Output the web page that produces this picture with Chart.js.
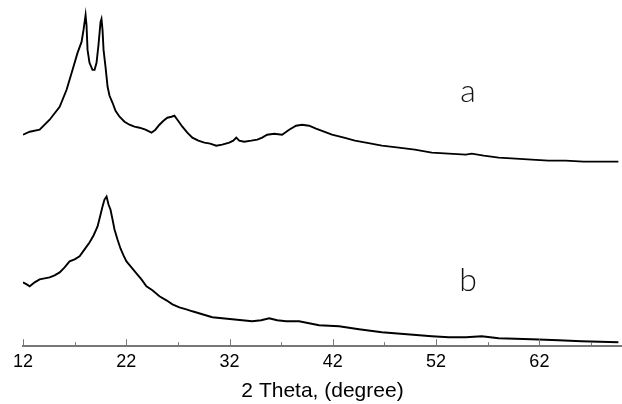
<!DOCTYPE html>
<html>
<head>
<meta charset="utf-8">
<script src="https://cdn.jsdelivr.net/npm/chart.js@4/dist/chart.umd.min.js"></script>
<style>
  html, body { margin: 0; padding: 0; background: #fff; }
  #wrap { width: 622px; height: 404px; position: relative; }
</style>
</head>
<body>
<div id="wrap"><canvas id="c" width="622" height="404"></canvas></div>
<script>
// 2θ positions and intensities (arbitrary units)
const thetaA = [12.0, 12.65, 13.61, 14.58, 15.55, 16.22, 16.80, 17.28, 17.67, 17.86, 18.06, 18.15, 18.25, 18.44, 18.73, 18.93, 19.12, 19.31, 19.51, 19.60, 19.70, 19.80, 19.99, 20.19, 20.38, 20.67, 20.96, 21.35, 21.83, 22.31, 22.79, 23.28, 23.86, 24.44, 24.82, 25.21, 25.60, 25.98, 26.37, 26.66, 26.95, 27.43, 27.91, 28.40, 28.98, 29.56, 30.13, 30.71, 31.29, 31.97, 32.36, 32.65, 32.94, 33.42, 34.10, 34.68, 35.16, 35.64, 36.32, 37.09, 37.77, 38.44, 39.02, 39.70, 40.37, 41.15, 41.92, 43.08, 44.14, 45.20, 46.75, 48.39, 49.94, 51.58, 53.23, 54.87, 55.45, 56.61, 58.06, 59.70, 61.25, 62.89, 64.53, 66.27, 67.72, 69.65];
const intensityA = [212, 215, 217, 227, 240, 257, 277, 294, 305, 317, 332, 322, 297, 284, 277, 277, 284, 302, 325, 328, 317, 297, 280, 260, 251, 244, 236, 230, 225, 222, 220, 219, 217, 214, 217, 222, 226, 229, 230, 231, 227, 220, 214, 209, 206, 204, 203, 201, 202, 204, 206, 209, 206, 205, 206, 207, 209, 212, 213, 212, 217, 221, 222, 221, 218, 215, 212, 209, 206, 204, 201, 199, 197, 194, 193, 192, 193, 191, 189, 188, 187, 186, 186, 185, 185, 185];

const thetaB = [12.0, 12.36, 12.65, 13.13, 13.61, 14.09, 14.58, 15.06, 15.55, 16.03, 16.51, 17.0, 17.48, 17.96, 18.44, 18.83, 19.22, 19.51, 19.70, 19.89, 20.09, 20.28, 20.47, 20.67, 20.86, 21.15, 21.44, 21.73, 22.02, 22.50, 22.98, 23.47, 23.95, 24.53, 25.21, 25.89, 26.47, 27.14, 27.82, 28.40, 29.36, 30.33, 31.29, 32.26, 33.23, 34.19, 35.06, 35.84, 36.61, 37.48, 38.73, 40.67, 42.60, 44.53, 46.75, 49.17, 51.58, 53.23, 54.87, 56.42, 58.06, 61.25, 63.86, 66.08, 69.65];
const intensityB = [64, 62, 60, 64, 67, 68, 69, 71, 74, 79, 85, 87, 90, 97, 104, 111, 120, 132, 140, 147, 150, 142, 137, 127, 117, 107, 98, 91, 85, 79, 73, 67, 60, 56, 50, 46, 42, 39, 37, 35, 32, 29, 28, 27, 26, 25, 26, 28, 26, 25, 25, 21, 20, 17, 14, 12, 10, 9, 9, 10, 8, 7, 6, 5, 4];

const majorTicks = [12, 22, 32, 42, 52, 62];
const minorTicks = [17, 27, 37, 47, 57, 67];
const seriesNames = ['a', 'b'];
const nameTheta = [55.1, 55.1];
const nameIntensity = [245, 55];
const xTitle = '2 Theta, (degree)';

const toPts = (xs, ys) => xs.map((x, i) => ({ x: x, y: ys[i] }));

const insideTicks = {
  id: 'insideTicks',
  afterDatasetsDraw(chart) {
    const ctx = chart.ctx, xs = chart.scales.x, bottom = chart.chartArea.bottom;
    ctx.save();
    ctx.strokeStyle = '#777';
    ctx.lineWidth = 1;
    majorTicks.forEach(v => {
      const px = Math.round(xs.getPixelForValue(v)) + 0.5;
      ctx.beginPath(); ctx.moveTo(px, bottom); ctx.lineTo(px, bottom - 7); ctx.stroke();
    });
    minorTicks.forEach(v => {
      const px = Math.round(xs.getPixelForValue(v)) + 0.5;
      ctx.beginPath(); ctx.moveTo(px, bottom); ctx.lineTo(px, bottom - 4); ctx.stroke();
    });
    // series names
    const ys = chart.scales.y;
    ctx.fillStyle = '#111';
    ctx.font = '300 32px Lato, "Open Sans", sans-serif';
    ctx.textAlign = 'center';
    ctx.textBaseline = 'alphabetic';
    seriesNames.forEach((n, i) => {
      ctx.fillText(n, xs.getPixelForValue(nameTheta[i]), ys.getPixelForValue(nameIntensity[i]));
    });
    ctx.restore();
  }
};

new Chart(document.getElementById('c'), {
  type: 'line',
  data: {
    datasets: [
      { label: seriesNames[0], data: toPts(thetaA, intensityA), borderColor: '#000', borderWidth: 1.9, pointRadius: 0, tension: 0, fill: false },
      { label: seriesNames[1], data: toPts(thetaB, intensityB), borderColor: '#000', borderWidth: 1.9, pointRadius: 0, tension: 0, fill: false }
    ]
  },
  options: {
    responsive: false,
    animation: false,
    layout: { padding: { left: 23, right: 0, top: 0, bottom: 0 } },
    plugins: { legend: { display: false }, tooltip: { enabled: false } },
    scales: {
      x: {
        type: 'linear',
        min: 12,
        max: 70,
        afterBuildTicks: (scale) => {
          scale.ticks = majorTicks.concat(minorTicks).sort((a, b) => a - b).map(v => ({ value: v }));
        },
        ticks: {
          autoSkip: false,
          maxRotation: 0,
          padding: 5.5,
          color: '#000',
          font: { family: '"Liberation Sans", Arial, sans-serif', size: 18 },
          callback: (v) => majorTicks.includes(v) ? String(v) : ''
        },
        grid: { display: false, drawTicks: false },
        border: { display: true, color: '#777', width: 2 },
        title: {
          display: true,
          text: xTitle,
          color: '#000',
          font: { family: '"Liberation Sans", Arial, sans-serif', size: 21 },
          padding: { top: 0, bottom: 0 }
        }
      },
      y: {
        type: 'linear',
        display: false,
        min: 0,
        max: 347
      }
    }
  },
  plugins: [insideTicks]
});
</script>
</body>
</html>
